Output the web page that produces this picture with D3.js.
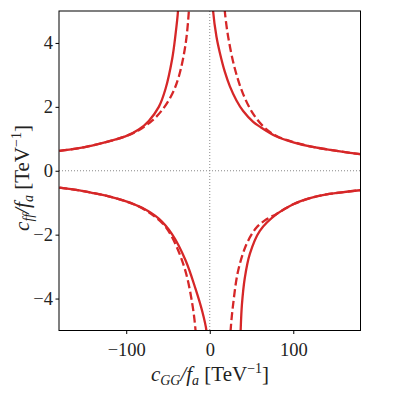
<!DOCTYPE html>
<html>
<head>
<meta charset="utf-8">
<script src="https://cdn.jsdelivr.net/npm/d3@7"></script>
<style>
  body { margin: 0; background: #fff; }
  text { font-family: "Liberation Serif", "DejaVu Serif", serif; fill: #222; }
</style>
</head>
<body>
<svg width="394" height="394"></svg>
<script>
// branches, [c_GG/f_a, c_ff/f_a]
const solidUpperLeft = [[-180, 0.62], [-160, 0.69], [-141, 0.79], [-121, 0.92], [-101, 1.075], [-85, 1.29], [-73, 1.56], [-61, 2.0], [-53, 2.56], [-45, 3.5], [-41, 4.26], [-38, 5], [-37.3, 5.4]];
const dashedUpperLeft = [[-180, 0.62], [-160, 0.69], [-141, 0.79], [-121, 0.92], [-101, 1.075], [-85, 1.27], [-69, 1.57], [-57, 1.9], [-45, 2.4], [-37, 2.95], [-29, 3.95], [-25, 5], [-24.3, 5.4]];
const solidUpperRight = [[3.3, 5.4], [4, 5], [8, 4.2], [12, 3.7], [18, 3.1], [24, 2.65], [32, 2.2], [40, 1.87], [52, 1.53], [60, 1.38], [80, 1.07], [100, 0.89], [120, 0.76], [140, 0.67], [160, 0.59], [180, 0.52]];
const dashedUpperRight = [[17.1, 5.4], [18, 5], [22, 4.2], [30, 3.2], [40, 2.4], [52, 1.78], [66, 1.34], [80, 1.09], [100, 0.9], [120, 0.765], [140, 0.67], [160, 0.59], [180, 0.52]];
const solidLowerLeft = [[-180, -0.53], [-160, -0.60], [-141, -0.69], [-121, -0.80], [-101, -0.95], [-81, -1.16], [-61, -1.5], [-45, -1.99], [-29, -2.8], [-17, -3.7], [-9, -4.4], [-4, -5], [-3.3, -5.4]];
const dashedLowerLeft = [[-180, -0.53], [-160, -0.60], [-141, -0.69], [-121, -0.80], [-101, -0.95], [-81, -1.17], [-65, -1.45], [-53, -1.75], [-41, -2.3], [-29, -3.15], [-21, -4.15], [-17, -5], [-16.4, -5.4]];
const solidLowerRight = [[36.6, -5.4], [37, -5], [38.5, -4.2], [42, -3.35], [48, -2.6], [60, -1.88], [80, -1.36], [100, -1.05], [120, -0.86], [140, -0.74], [160, -0.67], [180, -0.61]];
const dashedLowerRight = [[24.6, -5.4], [25, -5], [28, -4.18], [34, -3.13], [44, -2.3], [56, -1.78], [68, -1.52], [80, -1.35], [100, -1.05], [120, -0.86], [140, -0.74], [160, -0.67], [180, -0.61]];

const xTicks = [-100, 0, 100];
const yTicks = [-4, -2, 0, 2, 4];

const svg = d3.select('svg');
const plotLeft = 59, plotRight = 360.5, plotTop = 11, plotBottom = 330.5;

const x = d3.scaleLinear().domain([-180.5, 180.5]).range([plotLeft, plotRight]);
const y = d3.scaleLinear().domain([-5, 5]).range([plotBottom, plotTop]);

svg.append('clipPath').attr('id', 'plot')
  .append('rect')
  .attr('x', plotLeft).attr('y', plotTop)
  .attr('width', plotRight - plotLeft).attr('height', plotBottom - plotTop);

// dotted zero lines
svg.append('line')
  .attr('x1', plotLeft).attr('x2', plotRight)
  .attr('y1', y(0)).attr('y2', y(0))
  .attr('stroke', '#888').attr('stroke-width', 1).attr('stroke-dasharray', '1,2');
svg.append('line')
  .attr('x1', x(0)).attr('x2', x(0))
  .attr('y1', plotTop).attr('y2', plotBottom)
  .attr('stroke', '#888').attr('stroke-width', 1).attr('stroke-dasharray', '1,2');

const line = d3.line()
  .x(d => x(d[0]))
  .y(d => y(d[1]))
  .curve(d3.curveCatmullRom.alpha(0.5));

const branches = [
  { data: solidUpperLeft, dashed: false },
  { data: solidUpperRight, dashed: false },
  { data: solidLowerLeft, dashed: false },
  { data: solidLowerRight, dashed: false },
  { data: dashedUpperLeft, dashed: true },
  { data: dashedUpperRight, dashed: true },
  { data: dashedLowerLeft, dashed: true },
  { data: dashedLowerRight, dashed: true },
];

svg.append('g').attr('clip-path', 'url(#plot)')
  .selectAll('path')
  .data(branches)
  .enter()
  .append('path')
  .attr('d', d => line(d.data))
  .attr('fill', 'none')
  .attr('stroke', '#d62728')
  .attr('stroke-width', 2.3)
  .attr('stroke-dasharray', d => d.dashed ? '8,3.6' : null);

// axes
const fmt = d => d < 0 ? '\u2212' + Math.abs(d) : String(d);

const xAxis = svg.append('g')
  .attr('transform', `translate(0,${plotBottom})`)
  .call(d3.axisBottom(x).tickValues(xTicks).tickFormat(fmt).tickSize(3.5).tickSizeOuter(0));
xAxis.select('.domain').remove();
xAxis.selectAll('text').attr('font-size', 18.5).attr('dy', '1.0em').attr('fill', '#222');

const yAxis = svg.append('g')
  .attr('transform', `translate(${plotLeft},0)`)
  .call(d3.axisLeft(y).tickValues(yTicks).tickFormat(fmt).tickSize(3.5).tickSizeOuter(0));
yAxis.select('.domain').remove();
yAxis.selectAll('text').attr('font-size', 18.5).attr('x', -6).attr('fill', '#222');

svg.append('rect')
  .attr('x', plotLeft).attr('y', plotTop)
  .attr('width', plotRight - plotLeft).attr('height', plotBottom - plotTop)
  .attr('fill', 'none').attr('stroke', '#000').attr('stroke-width', 1);

// axis labels
function label(sel, sub) {
  sel.append('tspan').attr('font-style', 'italic').text('c');
  sel.append('tspan').attr('font-style', 'italic').attr('font-size', 14).attr('dy', 4).text(sub);
  sel.append('tspan').attr('font-style', 'italic').attr('dy', -4).text('/f');
  sel.append('tspan').attr('font-style', 'italic').attr('font-size', 14).attr('dy', 4).text('a');
  sel.append('tspan').attr('dy', -4).text(' [TeV');
  sel.append('tspan').attr('font-size', 14).attr('dy', -8).text('\u22121');
  sel.append('tspan').attr('dy', 8).text(']');
}

const xl = svg.append('text')
  .attr('x', 210).attr('y', 381)
  .attr('text-anchor', 'middle')
  .attr('font-size', 21);
label(xl, 'GG');

const yl = svg.append('text')
  .attr('transform', 'translate(29,178) rotate(-90)')
  .attr('text-anchor', 'middle')
  .attr('font-size', 21);
label(yl, 'ff');
</script>
</body>
</html>
